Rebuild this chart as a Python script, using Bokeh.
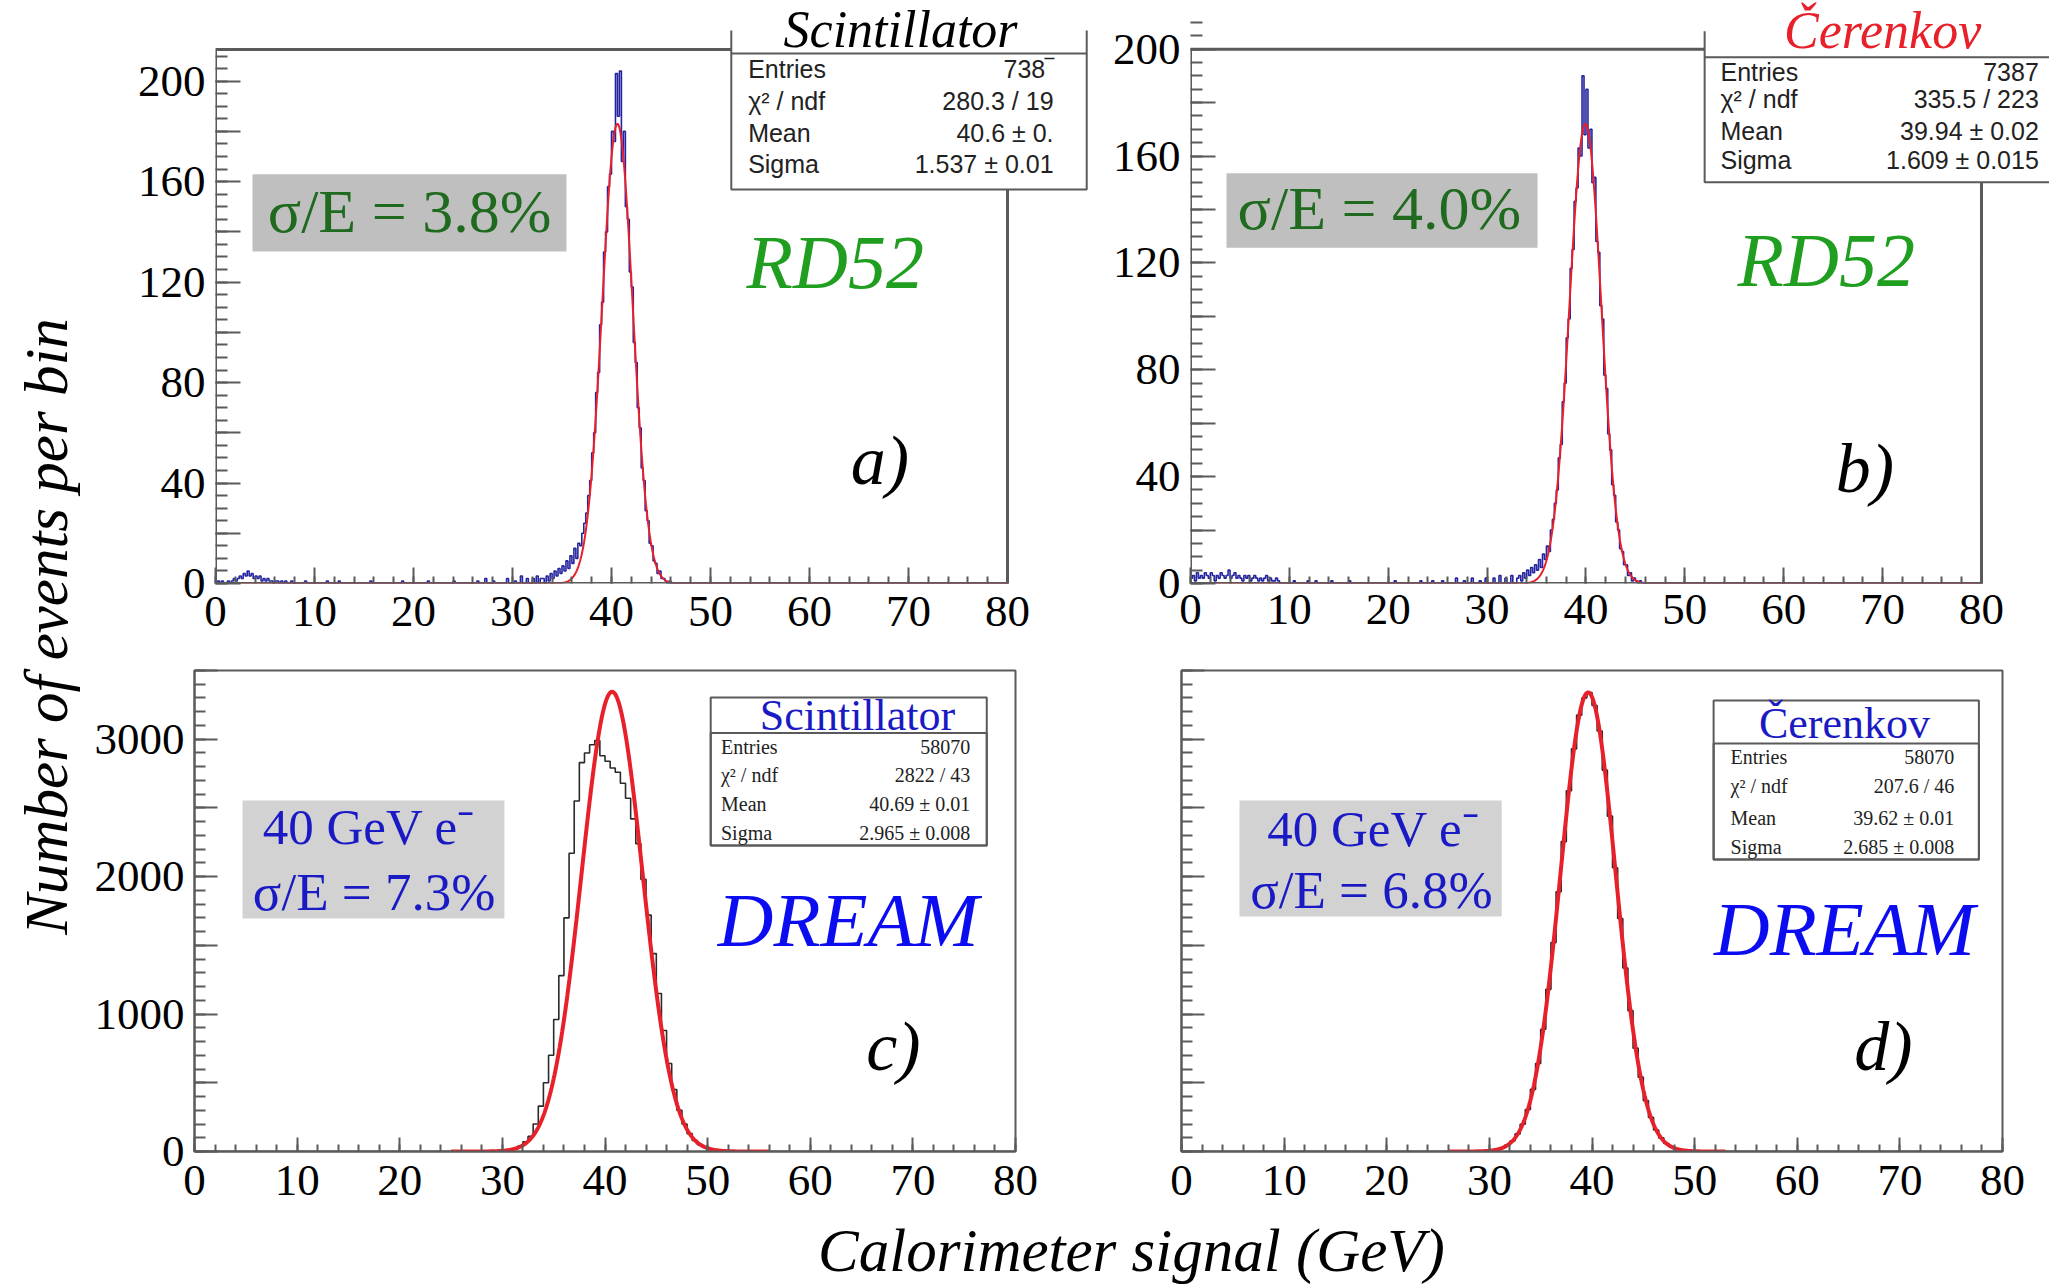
import numpy as np
from bokeh.plotting import figure
from bokeh.models import Range1d, FixedTicker, Label, BoxAnnotation
from bokeh.layouts import row, column
from bokeh.embed import file_html
from bokeh.resources import INLINE

# ---------------- data ----------------
x_ticks = [0, 10, 20, 30, 40, 50, 60, 70, 80]
x_tick_labels = ["0", "10", "20", "30", "40", "50", "60", "70", "80"]
x_minor = list(range(0, 81, 2))

ab_y_ticks = [0, 20, 40, 60, 80, 100, 120, 140, 160, 180, 200]
ab_y_labels = ["0", "", "40", "", "80", "", "120", "", "160", "", "200"]
ab_y_minor = list(range(0, 211, 5))

cd_y_ticks = [0, 500, 1000, 1500, 2000, 2500, 3000, 3500]
cd_y_labels = ["0", "", "1000", "", "2000", "", "3000", ""]
cd_y_minor = list(range(0, 3501, 100))

# RD52 histograms, 0.2 GeV bins
ab_bin = 0.2
a_lo_counts = [0, 1, 0, 1, 0, 0, 1, 0, 1, 2, 1, 2, 3, 2, 4, 3, 5, 3, 4, 2,
               3, 2, 3, 1, 2, 1, 2, 1, 1, 0, 1, 1, 0, 1, 0, 1, 0, 0, 1, 0]
a_sp_x = [9.1, 11.3, 12.5, 15.7, 18.9, 21.5, 24.1, 26.5, 27.3, 28.1, 29.5, 30.3, 30.9, 31.5, 32.1, 32.5, 32.9]
a_sp_n = [1, 1, 1, 1, 1, 1, 1, 1, 2, 1, 2, 1, 3, 2, 2, 3, 2]
a_pk_start = 33.0
a_pk_counts = [2, 0, 3, 1, 4, 2, 5, 3, 6, 4, 7, 5, 9, 6, 11, 8, 14, 10, 16, 15,
               20, 24, 28, 35, 41, 52, 60, 76, 84, 103, 112, 132, 140, 158, 163, 180, 176, 203, 186, 204,
               168, 180, 150, 145, 124, 118, 96, 88, 70, 62, 46, 41, 29, 25, 16, 15, 9, 8, 4, 5,
               2, 2, 1, 0, 1]

b_lo_counts = [2, 3, 1, 4, 2, 3, 2, 4, 3, 2, 4, 3, 1, 3, 2, 4, 3, 2, 3, 5,
               2, 3, 4, 2, 3, 2, 1, 3, 2, 3, 1, 2, 3, 2, 1, 2, 1, 2, 3, 1,
               2, 1, 1, 2, 1]
b_sp_x = [10.5, 11.9, 12.7, 14.3, 16.1, 20.7, 23.3, 24.5, 25.5, 26.9, 27.7, 28.5, 29.3, 29.9, 30.7, 31.3, 31.9, 32.5]
b_sp_n = [1, 1, 1, 1, 1, 1, 1, 1, 1, 2, 1, 2, 1, 2, 2, 3, 2, 3]
b_pk_start = 33.0
b_pk_counts = [2, 3, 1, 4, 2, 5, 3, 6, 4, 7, 5, 9, 6, 11, 9, 14, 12, 20, 24, 30,
               35, 47, 52, 68, 75, 92, 99, 118, 125, 143, 148, 163, 160, 190, 168, 185, 163, 170, 150, 152,
               128, 124, 104, 99, 78, 73, 56, 50, 37, 33, 23, 20, 13, 12, 7, 7, 3, 4, 1, 2,
               1, 0, 1, 0, 0]

# DREAM histograms, 0.5 GeV bins
cd_bin = 0.5
c_start = 29.0
c_counts = [0, 2, 5, 10, 20, 40, 70, 110, 200, 330, 500, 700, 960, 1280, 1700, 2170, 2550, 2830, 2900, 2960,
            2990, 2880, 2840, 2790, 2760, 2680, 2570, 2420, 2240, 1980, 1720, 1440, 1150, 880, 640, 450,
            300, 200, 130, 80, 50, 30, 15, 8, 4, 2]
d_start = 30.0
d_counts = [8, 14, 25, 47, 76, 128, 198, 306, 452, 640, 890, 1180, 1520, 1890, 2255, 2625, 2930, 3175, 3300, 3340,
            3245, 3060, 2775, 2440, 2065, 1695, 1335, 1025, 752, 541, 370, 248, 156, 99, 58, 35, 18, 10, 5, 2]

a_fit = dict(mean=40.6, sigma=1.537, amp=183, lo=0, hi=80)
b_fit = dict(mean=39.94, sigma=1.609, amp=172, lo=0, hi=80)
c_fit = dict(mean=40.69, sigma=2.965, amp=3345, lo=25, hi=56)
d_fit = dict(mean=39.62, sigma=2.685, amp=3340, lo=26, hi=53)

# histogram frame tops (ROOT y maxima)
a_ymax = 212.6
b_ymax = 200
cd_ymax = 3500

stat_names = ["Entries", "\u03c7\u00b2 / ndf", "Mean", "Sigma"]
a_stat_values = ["738\u203e", "280.3 / 19", "40.6 \u00b1 0.", "1.537 \u00b1 0.01"]
b_stat_values = ["7387", "335.5 / 223", "39.94 \u00b1 0.02", "1.609 \u00b1 0.015"]
c_stat_values = ["58070", "2822 / 43", "40.69 \u00b1 0.01", "2.965 \u00b1 0.008"]
d_stat_values = ["58070", "207.6 / 46", "39.62 \u00b1 0.01", "2.685 \u00b1 0.008"]

# ---------------- styling ----------------
SERIF = "Liberation Serif"
SANS = "Liberation Sans"
FRAME = "#5a5a5a"
RED = "#e8202a"
HBLUE = "#2424a0"
DGREEN = "#1f6a1f"
GREEN = "#1f9e1f"
TBLUE = "#1a1ac4"
DBLUE = "#0c0cf0"


def build_hist(nbins, width, pieces):
    counts = np.zeros(nbins)
    for start, vals in pieces:
        i0 = int(round(start / width))
        counts[i0:i0 + len(vals)] = vals
    return counts


def add_sparse(counts, width, xs, ns):
    for x, n in zip(xs, ns):
        counts[int(x / width)] = n
    return counts


def make_panel(width, height, left, right, top, bottom, xend, yend, yticks, ylabels, yminor,
               ytick_long, ytick_short, xtick_long, xtick_short, xstand, own_frame):
    p = figure(width=width, height=height, x_range=Range1d(0, xend), y_range=Range1d(0, yend),
               toolbar_location=None, output_backend="svg", title=None,
               min_border_left=left, min_border_right=right, min_border_top=top, min_border_bottom=bottom)
    p.xgrid.visible = False
    p.ygrid.visible = False
    p.background_fill_color = "white"
    p.border_fill_color = "white"
    if own_frame:
        p.outline_line_color = None
    else:
        p.outline_line_color = FRAME
        p.outline_line_width = 2
    p.xaxis.ticker = FixedTicker(ticks=x_ticks, minor_ticks=x_minor)
    p.xaxis.major_label_overrides = {t: l for t, l in zip(x_ticks, x_tick_labels)}
    p.yaxis.ticker = FixedTicker(ticks=yticks, minor_ticks=yminor)
    p.yaxis.major_label_overrides = {t: l for t, l in zip(yticks, ylabels)}
    for ax in (p.xaxis, p.yaxis):
        ax.axis_line_color = None if own_frame else FRAME
        ax.axis_line_width = 2
        ax.major_tick_out = 0
        ax.minor_tick_out = 0
        ax.major_tick_line_color = FRAME
        ax.major_tick_line_width = 2
        ax.minor_tick_line_color = FRAME
        ax.minor_tick_line_width = 2
        ax.major_label_text_font = SERIF
        ax.major_label_text_font_size = "45px"
        ax.major_label_text_color = "black"
    p.xaxis.major_tick_in = xtick_long
    p.xaxis.minor_tick_in = xtick_short
    p.yaxis.major_tick_in = ytick_long
    p.yaxis.minor_tick_in = ytick_short
    p.xaxis.major_label_standoff = xstand
    p.yaxis.major_label_standoff = 10
    return p


def draw_frame(p, ytop):
    p.quad(left=[0], right=[x_ticks[-1]], bottom=[0], top=[ytop], fill_color=None,
           line_color=FRAME, line_width=3)


def draw_hist(p, counts, width, color, lw):
    edges = np.arange(len(counts) + 1) * width
    p.step(edges, np.append(counts, counts[-1]), mode="after", line_color=color, line_width=lw)


def draw_fit(p, fit, lw):
    xs = np.linspace(fit["lo"], fit["hi"], 1200)
    ys = fit["amp"] * np.exp(-0.5 * ((xs - fit["mean"]) / fit["sigma"]) ** 2)
    p.line(xs, ys, line_color=RED, line_width=lw)


def lab(p, x, y, text, size, color="black", font=SERIF, style="normal", align="center", baseline="middle", angle=0):
    p.add_layout(Label(x=x, y=y, text=text, text_font=font, text_font_size=f"{size}px",
                       text_font_style=style, text_color=color, text_align=align,
                       text_baseline=baseline, angle=angle))


def box(p, l, r, b, t, fill, line=None, lw=2):
    p.add_layout(BoxAnnotation(left=l, right=r, bottom=b, top=t, fill_color=fill, fill_alpha=1 if fill else 0,
                               line_color=line, line_width=lw, line_alpha=1))


# ---------------- panel a ----------------
# frame area reaches the canvas top and right so the stat box can stick out of the histogram frame
pa = make_panel(1012, 648, 130, 0, 0, 65, 89.09, 232.11, ab_y_ticks, ab_y_labels, ab_y_minor,
                25, 12, 16, 7, 13, True)
a_counts = build_hist(400, ab_bin, [(0.0, a_lo_counts), (a_pk_start, a_pk_counts)])
a_counts = add_sparse(a_counts, ab_bin, a_sp_x, a_sp_n)
draw_hist(pa, a_counts, ab_bin, HBLUE, 1.6)
draw_fit(pa, a_fit, 2)
draw_frame(pa, a_ymax)
box(pa, 3.74, 35.45, 132.2, 162.9, "#bfbfbf")
lab(pa, 19.6, 148.5, "\u03c3/E = 3.8%", 62, DGREEN)
lab(pa, 62.6, 128, "RD52", 76, GREEN, style="italic")
lab(pa, 67.1, 49, "a)", 70, "black", style="italic")
box(pa, 52.1, 88.0, 156.9, 220.2, "white")
box(pa, 52.1, 88.0, 156.9, 211.0, None, FRAME)
box(pa, 52.1, 52.1, 211.0, 220.2, None, FRAME)
box(pa, 88.0, 88.0, 211.0, 220.2, None, FRAME)
lab(pa, 69.2, 220.6, "Scintillator", 52, "black", style="italic")
for name, val, yy in zip(stat_names, a_stat_values, [204.7, 191.9, 179.2, 167.0]):
    lab(pa, 53.8, yy, name, 25, "#222222", font=SANS, align="left")
    lab(pa, 84.65, yy, val, 25, "#222222", font=SANS, align="right")

# ---------------- panel b ----------------
pb = make_panel(952, 648, 93, 0, 0, 61, 86.88, 218.2, ab_y_ticks, ab_y_labels, ab_y_minor,
                25, 12, 16, 7, 11, True)
b_counts = build_hist(400, ab_bin, [(0.0, b_lo_counts), (b_pk_start, b_pk_counts)])
b_counts = add_sparse(b_counts, ab_bin, b_sp_x, b_sp_n)
draw_hist(pb, b_counts, ab_bin, HBLUE, 1.6)
draw_fit(pb, b_fit, 2)
draw_frame(pb, b_ymax)
box(pb, 3.64, 35.1, 125.7, 153.5, "#bfbfbf")
lab(pb, 19.1, 140.5, "\u03c3/E = 4.0%", 62, DGREEN)
lab(pb, 64.3, 121, "RD52", 76, GREEN, style="italic")
lab(pb, 68.2, 43.1, "b)", 70, "black", style="italic")
box(pb, 52.0, 90.0, 150.2, 206.7, "white")
box(pb, 52.0, 90.0, 150.2, 197.0, None, FRAME)
box(pb, 52.0, 52.0, 197.0, 206.7, None, FRAME)
lab(pb, 70.0, 206.8, "\u010cerenkov", 52, RED, style="italic")
for name, val, yy in zip(stat_names, b_stat_values, [191.4, 181.3, 169.5, 158.4]):
    lab(pb, 53.6, yy, name, 25, "#222222", font=SANS, align="left")
    lab(pb, 85.8, yy, val, 25, "#222222", font=SANS, align="right")

# ---------------- panel c ----------------
pc = make_panel(965, 567, 109, 35, 22, 64, 80, cd_ymax, cd_y_ticks, cd_y_labels, cd_y_minor,
                23, 11, 14, 7, 14, False)
c_counts = build_hist(160, cd_bin, [(c_start, c_counts)])
draw_hist(pc, c_counts, cd_bin, "#2a2a2a", 1.6)
draw_fit(pc, c_fit, 4)
box(pc, 4.68, 30.2, 1695, 2554, "#d2d2d2")
lab(pc, 17.0, 2360, "40 GeV e\u207b", 51, TBLUE)
lab(pc, 17.5, 1885, "\u03c3/E = 7.3%", 53, TBLUE)
lab(pc, 63.7, 1684, "DREAM", 77, DBLUE, style="italic")
lab(pc, 68.1, 764, "c)", 70, "black", style="italic")
box(pc, 50.3, 77.2, 2227, 3303, "white", FRAME)
box(pc, 50.3, 77.2, 2227, 3046, None, FRAME)
lab(pc, 64.6, 3169, "Scintillator", 44, TBLUE)
for name, val, yy in zip(stat_names, c_stat_values, [2940, 2743, 2532, 2321]):
    lab(pc, 51.3, yy, name, 20, "#222222", align="left")
    lab(pc, 75.6, yy, val, 20, "#222222", align="right")

# ---------------- panel d ----------------
pd_ = make_panel(999, 567, 131, 47, 22, 64, 80, cd_ymax, cd_y_ticks, [""] * len(cd_y_ticks), cd_y_minor,
                 23, 11, 14, 7, 14, False)
d_counts = build_hist(160, cd_bin, [(d_start, d_counts)])
draw_hist(pd_, d_counts, cd_bin, "#2a2a2a", 1.6)
draw_fit(pd_, d_fit, 4)
box(pd_, 5.65, 31.2, 1710, 2554, "#d2d2d2")
lab(pd_, 18.7, 2350, "40 GeV e\u207b", 51, TBLUE)
lab(pd_, 18.5, 1903, "\u03c3/E = 6.8%", 53, TBLUE)
lab(pd_, 64.6, 1618, "DREAM", 77, DBLUE, style="italic")
lab(pd_, 68.4, 761, "d)", 70, "black", style="italic")
box(pd_, 51.85, 77.7, 2125, 3282, "white", FRAME)
box(pd_, 51.85, 77.7, 2125, 2968, None, FRAME)
lab(pd_, 64.6, 3114, "\u010cerenkov", 44, TBLUE)
for name, val, yy in zip(stat_names, d_stat_values, [2867, 2663, 2427, 2219]):
    lab(pd_, 53.5, yy, name, 20, "#222222", align="left")
    lab(pd_, 75.3, yy, val, 20, "#222222", align="right")

# ---------------- axis titles ----------------
py = figure(width=85, height=1284, x_range=Range1d(0, 85), y_range=Range1d(1284, 0),
            x_axis_type=None, y_axis_type=None, toolbar_location=None, output_backend="svg",
            title=None, min_border=0)
py.outline_line_color = None
py.xgrid.visible = False
py.ygrid.visible = False
lab(py, 46, 626, "Number of events per bin", 61, "black", style="italic", angle=np.pi / 2)

px = figure(width=1964, height=69, x_range=Range1d(85, 2049), y_range=Range1d(1284, 1215),
            x_axis_type=None, y_axis_type=None, toolbar_location=None, output_backend="svg",
            title=None, min_border=0)
px.outline_line_color = None
px.xgrid.visible = False
px.ygrid.visible = False
lab(px, 1131, 1249.5, "Calorimeter signal (GeV)", 61, "black", style="italic")

layout = row(py, column(row(pa, pb), row(pc, pd_), px))

open("out.html", "w").write(file_html(layout, INLINE))
